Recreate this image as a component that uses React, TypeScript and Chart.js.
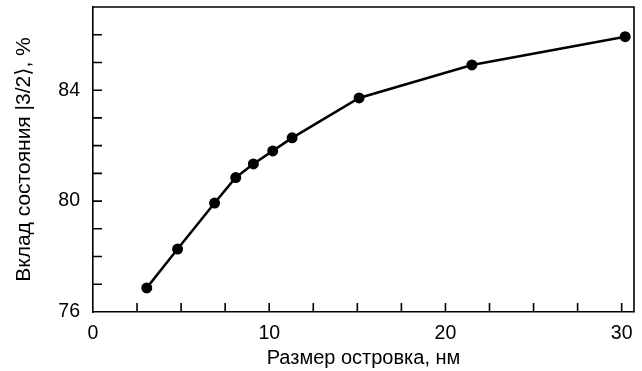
import React, { useEffect, useRef } from "react";
import { Chart, registerables } from "chart.js";

Chart.register(...registerables);

const sizes = [3.05, 4.8, 6.9, 8.1, 9.1, 10.2, 11.3, 15.1, 21.5, 30.2];
const contributions = [76.87, 78.27, 79.93, 80.85, 81.34, 81.81, 82.28, 83.72, 84.91, 85.93];
const xTickLabels = [0, 10, 20, 30];
const yTickLabels = [76, 80, 84];
const xMinorTicks = [2.5, 5, 7.5, 10, 12.5, 15, 17.5, 20, 22.5, 25, 27.5, 30];
const yMinorTicks = [77, 78, 79, 80, 81, 82, 83, 84, 85, 86];

const FONT = "'Liberation Sans', Arial, 'DejaVu Sans', sans-serif";

const frameAndTicks = {
  id: "frameAndTicks",
  afterDraw(chart: any) {
    const { ctx, chartArea, scales } = chart;
    const { left, right, top, bottom } = chartArea;
    ctx.save();
    ctx.strokeStyle = "#000";
    ctx.lineWidth = 1.6;
    ctx.beginPath();
    ctx.moveTo(left, top);
    ctx.lineTo(right, top);
    ctx.lineTo(right, bottom);
    ctx.stroke();
    const len = 9;
    ctx.beginPath();
    xMinorTicks.forEach((v) => {
      const px = scales.x.getPixelForValue(v);
      ctx.moveTo(px, bottom);
      ctx.lineTo(px, bottom - len);
    });
    yMinorTicks.forEach((v) => {
      const py = scales.y.getPixelForValue(v);
      ctx.moveTo(left, py);
      ctx.lineTo(left + len, py);
    });
    ctx.stroke();
    ctx.restore();
  },
};

export default function App() {
  const ref = useRef<HTMLCanvasElement | null>(null);
  useEffect(() => {
    if (!ref.current) return;
    const chart = new Chart(ref.current, {
      type: "line",
      data: {
        datasets: [
          {
            data: sizes.map((x, i) => ({ x, y: contributions[i] })),
            borderColor: "#000",
            backgroundColor: "#000",
            borderWidth: 2.5,
            pointRadius: 5.5,
            pointBackgroundColor: "#000",
            pointBorderWidth: 0,
            tension: 0,
          },
        ],
      },
      options: {
        animation: false,
        responsive: false,
        devicePixelRatio: 1,
        layout: { padding: { top: 7, right: 8, left: 0, bottom: 0 } },
        plugins: { legend: { display: false }, tooltip: { enabled: false } },
        scales: {
          x: {
            type: "linear",
            min: 0,
            max: 30.7,
            grid: { display: false, drawTicks: false },
            border: { display: true, color: "#000", width: 1.6 },
            afterBuildTicks: (scale: any) => {
              scale.ticks = xTickLabels.map((v) => ({ value: v }));
            },
            afterFit: (scale: any) => {
              scale.height = 59;
              scale.paddingLeft = 0;
              scale.paddingRight = 0;
            },
            ticks: {
              color: "#000",
              padding: 10,
              maxRotation: 0,
              autoSkip: false,
              font: { family: FONT, size: 19.5 },
            },
            title: {
              display: true,
              text: "Размер островка, нм",
              color: "#000",
              font: { family: FONT, size: 20 },
              padding: { top: 0, bottom: 1 },
            },
          },
          y: {
            type: "linear",
            min: 76,
            max: 87,
            grid: { display: false, drawTicks: false },
            border: { display: true, color: "#000", width: 1.6 },
            afterBuildTicks: (scale: any) => {
              scale.ticks = yTickLabels.map((v) => ({ value: v }));
            },
            afterFit: (scale: any) => {
              scale.width = 93;
              scale.paddingTop = 0;
              scale.paddingBottom = 0;
            },
            ticks: {
              color: "#000",
              padding: 13,
              autoSkip: false,
              font: { family: FONT, size: 19.5 },
            },
            title: {
              display: true,
              text: "Вклад состояния |3/2⟩, %",
              color: "#000",
              font: { family: FONT, size: 21 },
              padding: { top: 12, bottom: 0 },
            },
          },
        },
      },
      plugins: [frameAndTicks],
    });
    return () => chart.destroy();
  }, []);
  return (
    <div style={{ position: "fixed", left: 0, top: 0, width: 642, height: 371, background: "#fff" }}>
      <canvas ref={ref} width={642} height={371} style={{ display: "block", width: 642, height: 371 }} />
    </div>
  );
}
